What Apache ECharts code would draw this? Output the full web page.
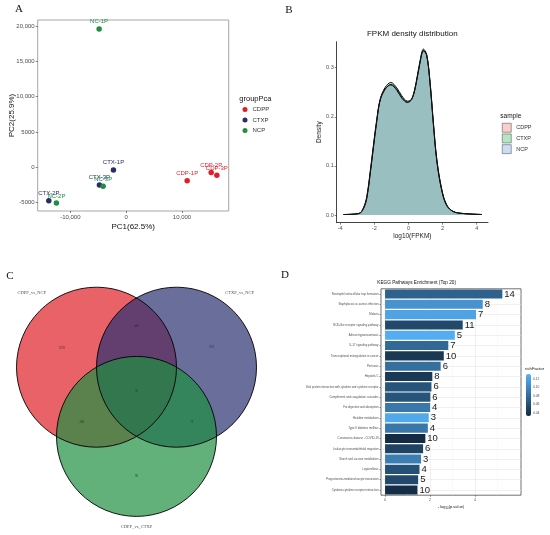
<!DOCTYPE html>
<html><head><meta charset="utf-8">
<script src="https://cdn.jsdelivr.net/npm/echarts@6/dist/echarts.min.js"></script>
<style>html,body{margin:0;padding:0;background:#fff}#c{width:550px;height:535px}</style>
</head><body><div id="c"></div>
<script>
// ---------- Panel A: PCA ----------
const pcaGroups = ['CDPP', 'CTXP', 'NCP'];
const cdppPoints = [[10930, -1890, 'CDP-1P'], [15230, -710, 'CDP-2P'], [16250, -1130, 'CDP-3P']];
const ctxpPoints = [[-2270, -380, 'CTX-1P'], [-13850, -4730, 'CTX-2P'], [-4780, -2500, 'CTX-3P']];
const ncpPoints = [[-4840, 19575, 'NC-1P'], [-12490, -5060, 'NC-2P'], [-4120, -2660, 'NC-3P']];
const pcaXTicks = [-10000, 0, 10000];
const pcaYTicks = [-5000, 0, 5000, 10000, 15000, 20000];

// ---------- Panel B: density ----------
const densityX = [-3.8, -2.9, -2.63, -2.43, -2.24, -2.05, -1.85, -1.65, -1.36, -1.03, -0.68, -0.39, -0.06, 0.2, 0.45, 0.68, 0.88, 1.07, 1.27, 1.46, 1.66, 1.95, 2.24, 2.63, 3.22, 4.3];
const densityCDPP = [0.001, 0.003, 0.015, 0.039, 0.088, 0.142, 0.196, 0.236, 0.257, 0.265, 0.254, 0.238, 0.229, 0.236, 0.268, 0.312, 0.335, 0.326, 0.270, 0.190, 0.115, 0.053, 0.021, 0.007, 0.003, 0.001];
const densityCTXP = [0.001, 0.003, 0.013, 0.035, 0.083, 0.137, 0.192, 0.236, 0.260, 0.270, 0.259, 0.243, 0.232, 0.236, 0.267, 0.310, 0.334, 0.325, 0.266, 0.185, 0.110, 0.050, 0.019, 0.007, 0.003, 0.001];
const densityNCP = [0.001, 0.003, 0.014, 0.037, 0.085, 0.139, 0.193, 0.234, 0.256, 0.266, 0.256, 0.240, 0.230, 0.237, 0.270, 0.314, 0.338, 0.327, 0.268, 0.187, 0.112, 0.051, 0.020, 0.007, 0.003, 0.001];
const densityXTicks = [-4, -2, 0, 2, 4];
const densityYTicks = [0, 0.1, 0.2, 0.3];

// ---------- Panel C: Venn ----------
const vennSets = ['CDPP_vs_NCP', 'CTXP_vs_NCP', 'CDPP_vs_CTXP'];
const vennCircles = [[-0.5, 0, 1], [0.5, 0, 1], [0, -0.866, 1]];
const vennCounts = ['1078', '466', '933', '76', '288', '72', '96'];

// ---------- Panel D: KEGG ----------
const pathways = ['Neutrophil extracellular trap formation', 'Staphylococcus aureus infection', 'Malaria', 'NOD-like receptor signaling pathway', 'African trypanosomiasis', 'IL-17 signaling pathway', 'Transcriptional misregulation in cancer', 'Pertussis', 'Hepatitis C', 'Viral protein interaction with cytokine and cytokine receptor', 'Complement and coagulation cascades', 'Fat digestion and absorption', 'Histidine metabolism', 'Type II diabetes mellitus', 'Coronavirus disease - COVID-19', 'Leukocyte transendothelial migration', 'Starch and sucrose metabolism', 'Legionellosis', 'Progesterone-mediated oocyte maturation', 'Cytokine-cytokine receptor interaction'];
const negLogP = [5.21, 4.34, 4.04, 3.45, 3.10, 2.81, 2.61, 2.47, 2.10, 2.06, 2.01, 2.00, 1.94, 1.90, 1.79, 1.69, 1.60, 1.53, 1.47, 1.44];
const geneCounts = [14, 8, 7, 11, 5, 7, 10, 6, 8, 6, 6, 4, 3, 4, 10, 6, 3, 4, 5, 10];
const richFactor = [0.073, 0.110, 0.122, 0.055, 0.129, 0.078, 0.043, 0.083, 0.043, 0.063, 0.063, 0.090, 0.125, 0.089, 0.033, 0.051, 0.094, 0.061, 0.055, 0.035];
const enrichXTicks = [0, 2, 4];
const enrichMinorTicks = [1, 3, 5];
const richTicks = [0.04, 0.06, 0.08, 0.10, 0.12];

// ---------- styling / layout ----------
const SANS = 'Liberation Sans';
const SERIF = 'Liberation Serif';
const groupColors = ['#DE1F27', '#272E6A', '#1F8E41'];
const vennFills = ['rgba(222,31,39,0.7)', 'rgba(41,48,112,0.7)', 'rgba(31,142,65,0.7)'];
const vennCountPos = [[-0.935, 0.24], [0, 0.51], [0.94, 0.245], [0, -0.30], [-0.685, -0.69], [0.69, -0.69], [0, -1.37]];
const vennSetPos = [[-1.31, 0.925], [1.29, 0.925], [0, -2.0]];
const rfMin = 0.033, rfMax = 0.132, cbTop = 374, cbH = 42;

const fmtPca = v => Math.abs(v) >= 10000 ? v.toLocaleString('en-US') : String(v);

const chart = echarts.init(document.getElementById('c'), null, { renderer: 'canvas' });

const tickLab = (vals, fmt, size) => ({ customValues: vals, formatter: fmt, fontSize: size, color: '#4d4d4d', margin: 3, fontFamily: SANS });
const tick = (vals, len) => ({ show: true, customValues: vals, length: len, lineStyle: { color: '#333', width: 0.6 } });

const option = {
  animation: false,
  textStyle: { fontFamily: SANS },
  grid: [
    { left: 37.7, top: 20, width: 191, height: 191, show: true, borderColor: '#a6a6a6', borderWidth: 1, backgroundColor: '#fff' },
    { left: 336.7, top: 41.7, width: 151.3, height: 181 },
    { left: 16.5, top: 279.3, width: 240, height: 256 },
    { left: 381, top: 288.8, width: 140, height: 206.4, show: true, borderColor: '#333', borderWidth: 0.7, backgroundColor: '#fff' }
  ],
  xAxis: [
    { type: 'value', gridIndex: 0, min: -15840, max: 18370, axisLine: { show: false, onZero: false }, splitLine: { show: false },
      axisTick: tick(pcaXTicks, 2), axisLabel: tickLab(pcaXTicks, fmtPca, 6),
      name: 'PC1(62.5%)', nameLocation: 'middle', nameGap: 12, nameTextStyle: { fontSize: 8, color: '#111', fontFamily: SANS } },
    { type: 'value', gridIndex: 1, min: -4.2, max: 4.66, axisLine: { show: true, onZero: false, lineStyle: { color: '#444', width: 1 } }, splitLine: { show: false },
      axisTick: tick(densityXTicks, 2), axisLabel: tickLab(densityXTicks, v => String(v), 5.5),
      name: 'log10(FPKM)', nameLocation: 'middle', nameGap: 9, nameTextStyle: { fontSize: 6.5, color: '#222', fontFamily: SANS } },
    { type: 'value', gridIndex: 2, min: -1.5, max: 1.5, show: false },
    { type: 'value', gridIndex: 3, min: -0.18, max: 6.04, axisLine: { show: false, onZero: false },
      splitLine: { show: true, lineStyle: { color: '#e6e6e6', width: 0.6 } },
      axisTick: tick(enrichXTicks, 1.5), axisLabel: tickLab(enrichXTicks, v => String(v), 3.5),
      name: '- log{s|10}(p.value)', nameLocation: 'middle', nameGap: 9,
      nameTextStyle: { fontSize: 4, color: '#222', fontFamily: SANS, rich: { s: { fontSize: 2.8, verticalAlign: 'bottom', padding: [3, 0, 0, 0] } } } },
    { type: 'value', gridIndex: 3, min: -0.18, max: 6.04, position: 'top', axisLine: { show: false, onZero: false }, axisLabel: { show: false },
      axisTick: { show: false, customValues: enrichMinorTicks },
      splitLine: { show: true, lineStyle: { color: '#f2f2f2', width: 0.5 } } }
  ],
  yAxis: [
    { type: 'value', gridIndex: 0, min: -6175, max: 20850, axisLine: { show: false, onZero: false }, splitLine: { show: false },
      axisTick: tick(pcaYTicks, 2), axisLabel: tickLab(pcaYTicks, fmtPca, 6),
      name: 'PC2(25.9%)', nameLocation: 'middle', nameGap: 21.5, nameMoveOverlap: false, nameTextStyle: { fontSize: 8, color: '#111', fontFamily: SANS } },
    { type: 'value', gridIndex: 1, min: -0.0157, max: 0.353, axisLine: { show: true, onZero: false, lineStyle: { color: '#444', width: 1 } }, splitLine: { show: false },
      axisTick: tick(densityYTicks, 2), axisLabel: tickLab(densityYTicks, v => v.toFixed(1), 5.5),
      name: 'Density', nameLocation: 'middle', nameGap: 13.5, nameMoveOverlap: false, nameTextStyle: { fontSize: 6.5, color: '#222', fontFamily: SANS } },
    { type: 'value', gridIndex: 2, min: -2.1, max: 1.1, show: false },
    { type: 'category', gridIndex: 3, data: pathways, inverse: true, axisLine: { show: false, onZero: false }, splitLine: { show: false },
      axisTick: { show: true, alignWithLabel: true, length: 1.5, lineStyle: { color: '#333', width: 0.5 } },
      axisLabel: { fontSize: 2.8, color: '#4d4d4d', margin: 2.5, fontFamily: SANS } },
    { type: 'value', gridIndex: 3, min: 0.5, max: 20.5, inverse: true, position: 'right', axisLine: { show: false, onZero: false }, axisLabel: { show: false },
      axisTick: { show: false, customValues: pathways.map((p, i) => i + 1) },
      splitLine: { show: true, lineStyle: { color: '#e6e6e6', width: 0.6 } } }
  ],
  legend: [
    { data: pcaGroups.map(n => ({ name: n, icon: 'circle' })), orient: 'vertical', left: 242.5, top: 106.5, padding: 0,
      itemWidth: 5, itemHeight: 5, itemGap: 4.5, selectedMode: false, textStyle: { fontSize: 6, color: '#333', fontFamily: SANS } },
    { data: [
        { name: 'CDPP ', icon: 'rect', itemStyle: { color: '#F8CFCB', borderColor: '#444', borderWidth: 0.5 } },
        { name: 'CTXP ', icon: 'rect', itemStyle: { color: '#B5E6C2', borderColor: '#444', borderWidth: 0.5 } },
        { name: 'NCP ', icon: 'rect', itemStyle: { color: '#CCDCF7', borderColor: '#444', borderWidth: 0.5 } }
      ], orient: 'vertical', left: 502, top: 123, padding: 0, itemWidth: 9, itemHeight: 9, itemGap: 1.2, selectedMode: false,
      lineStyle: { width: 0, opacity: 0 }, textStyle: { fontSize: 5.5, color: '#333', fontFamily: SANS } }
  ],
  visualMap: {
    type: 'continuous', seriesIndex: 10, dimension: 2, min: rfMin, max: rfMax, calculable: false, hoverLink: false,
    left: 526, top: cbTop, itemWidth: 5, itemHeight: cbH, padding: 0, inRange: { color: ['#132B43', '#56B1F7'] }
  },
  graphic: [],
  series: []
};

// Panel A series (0-2)
[cdppPoints, ctxpPoints, ncpPoints].forEach((pts, i) => {
  option.series.push({
    type: 'scatter', name: pcaGroups[i], xAxisIndex: 0, yAxisIndex: 0, data: pts, symbolSize: 5.5,
    itemStyle: { color: groupColors[i], opacity: 1 },
    label: { show: true, position: 'top', distance: 1.5, fontSize: 6, color: groupColors[i], fontFamily: SANS, formatter: p => p.data[2] }
  });
});

// Panel B series (3-5)
const densFills = ['rgba(248,118,109,0.3)', 'rgba(0,186,56,0.3)', 'rgba(97,156,255,0.3)'];
[densityCDPP, densityCTXP, densityNCP].forEach((arr, i) => {
  option.series.push({
    type: 'line', name: pcaGroups[i] + ' ', xAxisIndex: 1, yAxisIndex: 1, smooth: 0.35, showSymbol: false, symbol: 'none',
    data: densityX.map((x, j) => [x, arr[j]]),
    lineStyle: { color: '#111', width: 1 }, itemStyle: { color: densFills[i] },
    areaStyle: { color: densFills[i], opacity: 1 }
  });
});

// Panel C series (6-9)
option.series.push({
  type: 'custom', xAxisIndex: 2, yAxisIndex: 2, data: vennCircles, encode: { x: 0, y: 1 },
  renderItem: (params, api) => {
    const c = api.coord([api.value(0), api.value(1)]);
    const r = api.size([api.value(2), 0])[0];
    return { type: 'circle', shape: { cx: c[0], cy: c[1], r: r }, style: { fill: vennFills[params.dataIndex], stroke: null } };
  }
});
option.series.push({
  type: 'custom', xAxisIndex: 2, yAxisIndex: 2, data: vennCircles, encode: { x: 0, y: 1 }, z: 3,
  renderItem: (params, api) => {
    const c = api.coord([api.value(0), api.value(1)]);
    const r = api.size([api.value(2), 0])[0];
    return { type: 'circle', shape: { cx: c[0], cy: c[1], r: r }, style: { fill: null, stroke: '#000', lineWidth: 0.9 } };
  }
});
option.series.push({
  type: 'scatter', xAxisIndex: 2, yAxisIndex: 2, symbolSize: 0, clip: false, z: 4,
  data: vennCounts.map((t, i) => [vennCountPos[i][0], vennCountPos[i][1], t]),
  label: { show: true, position: 'inside', fontSize: 3, color: '#222', fontFamily: SERIF, formatter: p => p.data[2] }
});
option.series.push({
  type: 'scatter', xAxisIndex: 2, yAxisIndex: 2, symbolSize: 0, clip: false, z: 4,
  data: vennSets.map((t, i) => [vennSetPos[i][0], vennSetPos[i][1], t]),
  label: { show: true, position: 'inside', fontSize: 4.5, color: '#222', fontFamily: SERIF, formatter: p => p.data[2] }
});

// Panel D series (10)
option.series.push({
  type: 'bar', xAxisIndex: 3, yAxisIndex: 3, barCategoryGap: '12%', encode: { x: 0, y: 1 },
  data: pathways.map((p, i) => [negLogP[i], p, richFactor[i]]),
  label: { show: true, position: 'right', distance: 2, fontSize: 9.5, color: '#222', fontFamily: SANS,
    formatter: p => String(geneCounts[p.dataIndex]) }
});

// Free text
const txt = (x, y, text, size, opts) => Object.assign({ type: 'text', x: x, y: y, silent: true,
  style: Object.assign({ text: text, fontSize: size, fontFamily: SANS, fill: '#111', align: 'left', verticalAlign: 'middle' }, (opts || {})) });
option.graphic.push(txt(19, 9, 'A', 11, { fontFamily: SERIF, align: 'center' }));
option.graphic.push(txt(289, 10, 'B', 11, { fontFamily: SERIF, align: 'center' }));
option.graphic.push(txt(10, 276, 'C', 11, { fontFamily: SERIF, align: 'center' }));
option.graphic.push(txt(285, 275, 'D', 11, { fontFamily: SERIF, align: 'center' }));
option.graphic.push(txt(239.3, 99, 'groupPca', 7.5));
option.graphic.push(txt(500.3, 116.7, 'sample', 6.5));
option.graphic.push(txt(412.3, 33.7, 'FPKM density distribution', 8, { align: 'center' }));
option.graphic.push(txt(416.7, 282.3, 'KEGG Pathways Enrichment (Top 20)', 4.7, { align: 'center' }));
option.graphic.push(txt(525, 368.5, 'richFactor', 4.3));
richTicks.forEach(v => {
  option.graphic.push(txt(533, cbTop + (rfMax - v) / (rfMax - rfMin) * cbH, v.toFixed(2), 3.3, { fill: '#4d4d4d' }));
});

chart.setOption(option);
</script></body></html>
